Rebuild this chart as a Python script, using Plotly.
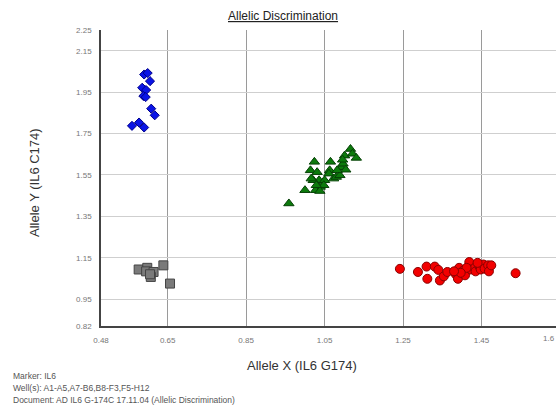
import plotly.graph_objects as go

# Allelic discrimination data: allele X (IL6 G174) vs allele Y (IL6 C174) signals
homo_y_x = [0.590, 0.599, 0.605, 0.585, 0.595, 0.588, 0.594, 0.608, 0.617, 0.559, 0.577, 0.590]
homo_y_y = [2.035, 2.042, 2.003, 1.971, 1.960, 1.931, 1.926, 1.870, 1.838, 1.787, 1.803, 1.779]

ntc_x = [0.576, 0.598, 0.595, 0.614, 0.607, 0.639, 0.656, 0.605]
ntc_y = [1.093, 1.101, 1.084, 1.081, 1.057, 1.113, 1.025, 1.070]

het_x = [0.959, 1.000, 1.014, 1.024, 1.031, 1.036, 1.021, 1.039, 1.027, 1.038,
         1.050, 1.065, 1.063, 1.061, 1.073, 1.080, 1.089, 1.092, 1.101, 1.097,
         1.104, 1.116, 1.121, 1.131, 1.096, 1.082, 1.048, 1.029, 1.016]
het_y = [1.412, 1.476, 1.572, 1.613, 1.563, 1.524, 1.524, 1.492, 1.476, 1.472,
         1.524, 1.613, 1.572, 1.556, 1.532, 1.540, 1.548, 1.587, 1.643, 1.604,
         1.575, 1.675, 1.652, 1.632, 1.623, 1.572, 1.500, 1.500, 1.532]

homo_x_x = [1.242, 1.288, 1.310, 1.312, 1.331, 1.340, 1.344, 1.354, 1.363, 1.385,
            1.393, 1.390, 1.404, 1.408, 1.419, 1.423, 1.433, 1.435, 1.445, 1.448,
            1.455, 1.458, 1.467, 1.469, 1.475, 1.537, 1.412, 1.397, 1.380, 1.440]
homo_x_y = [1.096, 1.081, 1.107, 1.048, 1.107, 1.091, 1.040, 1.060, 1.081, 1.069,
            1.101, 1.048, 1.088, 1.065, 1.129, 1.093, 1.101, 1.084, 1.108, 1.093,
            1.117, 1.097, 1.113, 1.084, 1.113, 1.075, 1.101, 1.077, 1.084, 1.125]

x_ticks = [0.48, 0.65, 0.85, 1.05, 1.25, 1.45, 1.64]
x_tick_text = ["0.48", "0.65", "0.85", "1.05", "1.25", "1.45", ""]
x_edge_label = "1.6"
y_ticks = [0.82, 0.95, 1.15, 1.35, 1.55, 1.75, 1.95, 2.15, 2.25]
y_tick_text = ["0.82", "0.95", "1.15", "1.35", "1.55", "1.75", "1.95", "2.15", "2.25"]

footer_lines = [
    "Marker: IL6",
    "Well(s): A1-A5,A7-B6,B8-F3,F5-H12",
    "Document: AD IL6 G-174C 17.11.04 (Allelic Discrimination)",
]

FONT = "Liberation Sans, Arial, sans-serif"

# Figure and plot-area geometry in pixels
W, H = 557, 410
L, R, T, B = 101, 1, 30, 84
PW, PH = W - L - R, H - T - B


def px(xp, yp):
    """Pixel position on the page -> paper coordinates."""
    return (xp - L) / PW, (H - B - yp) / PH


fig = go.Figure()

fig.add_trace(go.Scatter(
    x=ntc_x, y=ntc_y, mode="markers",
    marker=dict(symbol="square", size=9, color="#7a7a7a",
                line=dict(color="#444444", width=1)),
    showlegend=False, hoverinfo="x+y"))

fig.add_trace(go.Scatter(
    x=homo_y_x, y=homo_y_y, mode="markers",
    marker=dict(symbol="diamond", size=7, color="#0a14e6",
                line=dict(color="#00008a", width=1)),
    showlegend=False, hoverinfo="x+y"))

fig.add_trace(go.Scatter(
    x=het_x, y=het_y, mode="markers",
    marker=dict(symbol="triangle-up", size=9, color="#0c7a0c",
                line=dict(color="#064006", width=1)),
    showlegend=False, hoverinfo="x+y"))

fig.add_trace(go.Scatter(
    x=homo_x_x, y=homo_x_y, mode="markers",
    marker=dict(symbol="circle", size=9, color="#f20000",
                line=dict(color="#8a0000", width=1)),
    showlegend=False, hoverinfo="x+y"))

annots = []
tx, ty = px(283, 16)
annots.append(dict(text="<u>Allelic Discrimination</u>", x=tx, y=ty, xref="paper", yref="paper",
                   showarrow=False, xanchor="center", yanchor="middle",
                   font=dict(family=FONT, size=12, color="#222222")))
ax_x, ax_y = px(302, 365)
annots.append(dict(text="Allele X (IL6 G174)", x=ax_x, y=ax_y, xref="paper", yref="paper",
                   showarrow=False, xanchor="center", yanchor="middle",
                   font=dict(family=FONT, size=13, color="#333333")))
ay_x, ay_y = px(34, 183)
annots.append(dict(text="Allele Y (IL6 C174)", x=ay_x, y=ay_y, xref="paper", yref="paper",
                   showarrow=False, xanchor="center", yanchor="middle", textangle=-90,
                   font=dict(family=FONT, size=13, color="#333333")))
ex, ey = px(557, 338)
annots.append(dict(text=x_edge_label, x=ex, y=ey, xref="paper", yref="paper",
                   showarrow=False, xanchor="right", yanchor="middle",
                   font=dict(family=FONT, size=8, color="#777777")))
for i, line in enumerate(footer_lines):
    fx, fy = px(11, 376 + 12 * i)
    annots.append(dict(text=line, x=fx, y=fy, xref="paper", yref="paper",
                       showarrow=False, xanchor="left", yanchor="middle",
                       font=dict(family=FONT, size=8.5, color="#555555")))

fig.update_layout(
    width=W, height=H,
    margin=dict(l=L, r=R, t=T, b=B),
    paper_bgcolor="white", plot_bgcolor="white",
    font=dict(family=FONT, color="#666666", size=8),
    xaxis=dict(
        range=[0.48, 1.64], tickvals=x_ticks, ticktext=x_tick_text,
        showgrid=True, gridcolor="#9a9a9a", gridwidth=1,
        showline=True, linecolor="#444444", linewidth=1.5,
        zeroline=False, ticks="", ticklabelstandoff=6,
        tickfont=dict(size=8, color="#777777"), fixedrange=True,
    ),
    yaxis=dict(
        range=[0.82, 2.25], tickvals=y_ticks, ticktext=y_tick_text,
        showgrid=True, gridcolor="#cfcfcf", gridwidth=1,
        showline=True, linecolor="#444444", linewidth=1.5,
        zeroline=False, ticks="", ticklabelstandoff=6,
        tickfont=dict(size=8, color="#777777"), fixedrange=True,
    ),
    annotations=annots,
)

fig.write_html("out.html", config={"displayModeBar": False})
